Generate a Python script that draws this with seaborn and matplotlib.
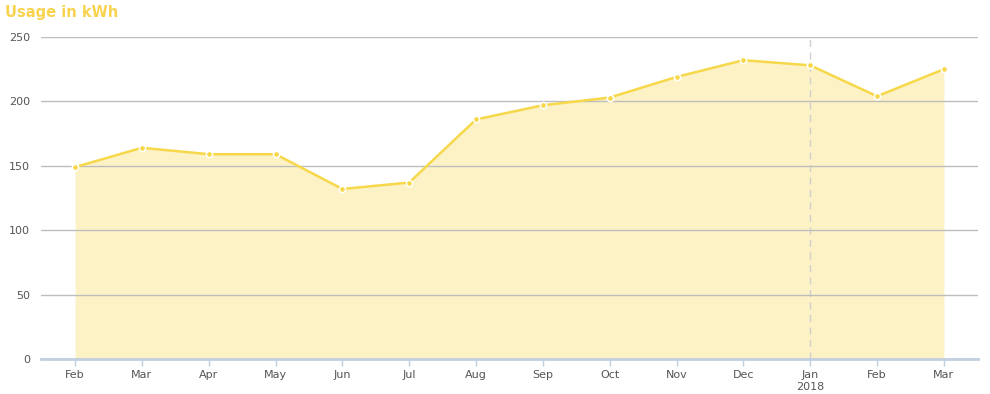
import matplotlib
matplotlib.use("Agg")
import matplotlib.pyplot as plt
import seaborn as sns
import pandas as pd
import numpy as np

months = ["Feb", "Mar", "Apr", "May", "Jun", "Jul", "Aug", "Sep", "Oct", "Nov", "Dec", "Jan\n2018", "Feb", "Mar"]
usage = [149, 164, 159, 159, 132, 137, 186, 197, 203, 219, 232, 228, 204, 225]
yticks = [0, 50, 100, 150, 200, 250]

sns.set_theme(style="white")
plt.rcParams['font.family'] = ['DejaVu Sans']

df = pd.DataFrame({"pos": np.arange(len(usage)), "usage": usage})

fig = plt.figure(figsize=(9.9, 3.94), dpi=100)
ax = fig.add_axes([41/990, 1-359/394, (978-41)/990, (359-37)/394])

line_color = "#F6D84A"
ax.fill_between(df["pos"], df["usage"], 0, color="#FDF2C5", linewidth=0, zorder=1)
ax.axvline(11, color="#CFCFCF", linestyle=(0, (5, 4)), linewidth=1, zorder=1.5)
sns.lineplot(data=df, x="pos", y="usage", ax=ax, color=line_color, linewidth=1.8,
             marker="o", markersize=4.5, markeredgecolor="white", markeredgewidth=1.1, zorder=3)

ax.set_xlim(-0.51, len(usage) - 1 + 0.51)
ax.set_ylim(0, 250)
ax.set_yticks(yticks)
ax.set_yticklabels([str(v) for v in yticks], fontsize=8, color="#555555")
ax.set_axisbelow(False)
ax.yaxis.grid(True, color="#BDBDBD", linewidth=1, zorder=2)
ax.set_xticks(df["pos"])
ax.set_xticklabels(months, fontsize=8, color="#555555")
ax.tick_params(axis="x", length=5, width=1, color="#C0D0E0", pad=3, bottom=True, direction="out")
ax.tick_params(axis="y", length=0, pad=8)
for s in ["top", "right", "left"]:
    ax.spines[s].set_visible(False)
ax.spines["bottom"].set_color("#C0D0E0")
ax.spines["bottom"].set_linewidth(2)
ax.spines["bottom"].set_zorder(4)
ax.set_xlabel("")
ax.set_ylabel("")

fig.text(5/990, 1-12/394, "Usage in kWh", color="#F7D34F", fontsize=10.5, fontweight="bold", va="center", ha="left")

fig.savefig("out.png", dpi=100)
